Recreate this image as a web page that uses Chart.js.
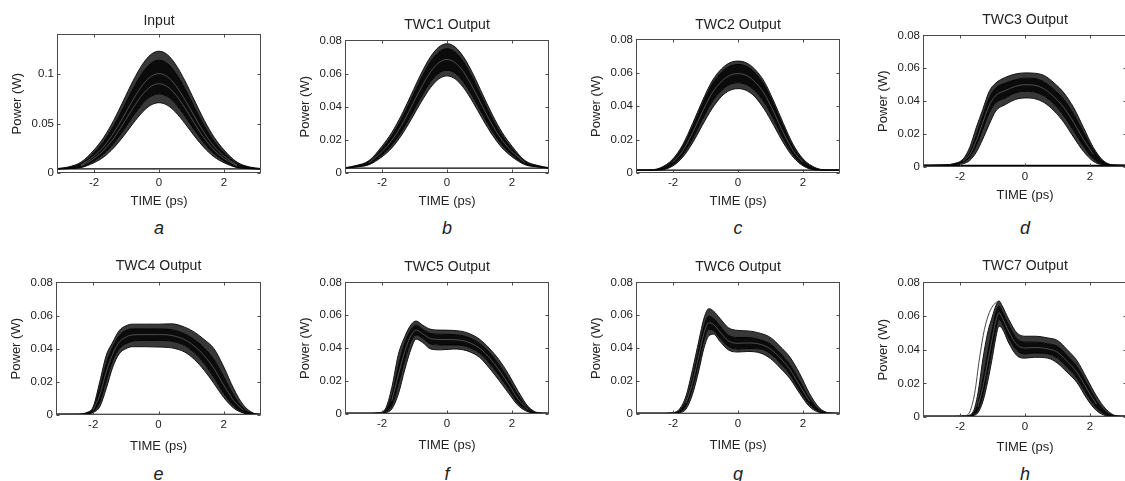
<!DOCTYPE html>
<html>
<head>
<meta charset="utf-8">
<script src="https://cdn.jsdelivr.net/npm/chart.js@4.4.1/dist/chart.umd.min.js"></script>
<style>
  body { margin: 0; width: 1125px; height: 481px; overflow: hidden; position: relative; background: #fff; font-family: "Liberation Sans", Arial, sans-serif; }
  .panel { position: absolute; }
  .tag { position: absolute; font-style: italic; font-size: 18px; color: #222; transform: translate(-50%, -50%); }
</style>
</head>
<body>
<script>
// time grids (ps)
const timeSym = [-3.14, -2.8, -2.4, -2.0, -1.7, -1.4, -1.1, -0.8, -0.5, -0.25, 0, 0.25, 0.5, 0.8, 1.1, 1.4, 1.7, 2.0, 2.4, 2.8, 3.14];
const timeD = [-3.14, -2.6, -2.2, -1.9, -1.7, -1.5, -1.3, -1.1, -0.9, -0.6, -0.3, 0, 0.3, 0.6, 0.9, 1.2, 1.5, 1.8, 2.1, 2.4, 2.7, 3.14];
const timeE = [-3.14, -2.5, -2.2, -2.0, -1.8, -1.6, -1.4, -1.2, -1.0, -0.8, -0.4, 0, 0.4, 0.8, 1.1, 1.4, 1.7, 2.0, 2.3, 2.6, 2.9, 3.14];
const timeF = [-3.14, -2.4, -2.1, -1.9, -1.7, -1.5, -1.3, -1.1, -0.95, -0.75, -0.5, -0.2, 0.2, 0.6, 1.0, 1.3, 1.6, 1.9, 2.2, 2.5, 2.8, 3.14];
const timeG = [-3.14, -2.4, -2.0, -1.8, -1.6, -1.4, -1.2, -1.05, -0.9, -0.75, -0.55, -0.3, 0, 0.3, 0.7, 1.0, 1.3, 1.6, 1.9, 2.2, 2.5, 2.8, 3.14];
const timeH = [-3.14, -2.2, -1.8, -1.6, -1.45, -1.3, -1.15, -1.0, -0.9, -0.8, -0.7, -0.5, -0.25, 0, 0.3, 0.7, 1.0, 1.3, 1.6, 1.9, 2.2, 2.5, 2.8, 3.14];
const timeEarly = [-1.85, -1.7, -1.55, -1.4, -1.25, -1.1, -0.95, -0.82];
const timeFloor = [-3.14, 3.14];

// a: Input - outer top curve, dense band top / bottom, outer bottom curve, light gaps seen inside the band (W)
const inputHi     = [.0045, .006, .011, .0233, .036, .0528, .0727, .093, .1102, .1197, .123, .1197, .1102, .093, .0727, .0528, .036, .0233, .011, .006, .0045];
const inputBandHi = [.0043, .0055, .0095, .0204, .0318, .0473, .0658, .0851, .1017, .1108, .114, .1108, .1017, .0851, .0658, .0473, .0318, .0204, .0095, .0055, .0043];
const inputBandLo = [.004, .0045, .006, .0122, .0193, .0296, .0428, .0573, .0701, .0774, .080, .0774, .0701, .0573, .0428, .0296, .0193, .0122, .006, .0045, .004];
const inputLo     = [.004, .0044, .0055, .0104, .0162, .0252, .0369, .050, .0618, .0686, .071, .0686, .0618, .050, .0369, .0252, .0162, .0104, .0055, .0044, .004];
const inputGap1   = [null, null, .0081, .0171, .0268, .0402, .0566, .074, .0891, .0974, .1004, .0974, .0891, .074, .0566, .0402, .0268, .0171, .0081, null, null];
const inputGap2   = [null, null, .0071, .0147, .0231, .0349, .0497, .0656, .0796, .0874, .0902, .0874, .0796, .0656, .0497, .0349, .0231, .0147, .0071, null, null];

// b: TWC1 output
const twc1Hi     = [.0032, .0045, .0075, .0162, .0244, .035, .0473, .0598, .0703, .076, .078, .076, .0703, .0598, .0473, .035, .0244, .0162, .0075, .0045, .0032];
const twc1BandHi = [.003, .0042, .0068, .0147, .0224, .0325, .0445, .0568, .0673, .073, .075, .073, .0673, .0568, .0445, .0325, .0224, .0147, .0068, .0042, .003];
const twc1BandLo = [.003, .0038, .0055, .011, .0169, .0251, .0352, .0458, .0551, .0602, .062, .0602, .0551, .0458, .0352, .0251, .0169, .011, .0055, .0038, .003];
const twc1Lo     = [.003, .0036, .005, .0098, .0151, .0228, .0324, .0427, .0517, .0568, .0586, .0568, .0517, .0427, .0324, .0228, .0151, .0098, .005, .0036, .003];
const twc1Gap    = [null, null, .0062, .0129, .0197, .0288, .0399, .0513, .0612, .0666, .0685, .0666, .0612, .0513, .0399, .0288, .0197, .0129, .0062, null, null];

// c: TWC2 output
const twc2Hi     = [.0017, .0018, .003, .0085, .017, .0295, .043, .055, .0625, .066, .067, .066, .0625, .055, .043, .0295, .017, .0085, .003, .0018, .0017];
const twc2BandHi = [.0017, .0017, .0027, .0075, .0155, .0275, .041, .053, .0605, .064, .065, .064, .0605, .053, .041, .0275, .0155, .0075, .0027, .0017, .0017];
const twc2BandLo = [.0017, .0017, .002, .005, .011, .0205, .032, .0425, .0495, .053, .054, .053, .0495, .0425, .032, .0205, .011, .005, .002, .0017, .0017];
const twc2Lo     = [.0017, .0017, .0018, .0043, .0095, .018, .0285, .0385, .046, .0495, .0505, .0495, .046, .0385, .0285, .018, .0095, .0043, .0018, .0017, .0017];
const twc2Gap    = [null, null, null, .0063, .0133, .024, .0365, .0478, .055, .0585, .0595, .0585, .055, .0478, .0365, .024, .0133, .0063, null, null, null];

// d: TWC3 output
const twc3Hi     = [.001, .0012, .002, .005, .012, .024, .035, .046, .051, .0545, .0565, .0572, .057, .0555, .051, .045, .036, .024, .012, .004, .0013, .001];
const twc3BandHi = [.001, .0012, .0018, .004, .009, .019, .031, .042, .048, .051, .053, .054, .0538, .0515, .047, .041, .032, .021, .0105, .0035, .0012, .001];
const twc3BandLo = [.001, .001, .0015, .003, .006, .013, .023, .033, .039, .042, .045, .046, .0455, .043, .038, .031, .022, .0125, .005, .0017, .001, .001];
const twc3Lo     = [.001, .001, .0013, .002, .004, .009, .017, .026, .034, .038, .041, .042, .0415, .039, .034, .027, .018, .0095, .0035, .0013, .001, .001];
const twc3Gap    = [null, null, null, .0035, .0075, .016, .027, .0375, .0435, .0465, .049, .05, .0497, .0473, .0425, .036, .027, .0168, .0078, null, null, null];

// e: TWC4 output
const twc4Hi     = [.0004, .0005, .0015, .005, .02, .036, .044, .051, .0538, .0548, .0548, .0548, .055, .053, .05, .0455, .04, .029, .016, .006, .0012, .0004];
const twc4BandHi = [.0004, .0004, .0012, .004, .016, .031, .041, .048, .051, .052, .052, .052, .0515, .049, .0455, .0405, .0335, .023, .012, .004, .0008, .0004];
const twc4BandLo = [.0004, .0004, .0008, .002, .008, .021, .033, .04, .043, .0445, .045, .045, .0445, .042, .0375, .031, .0225, .013, .0055, .0015, .0004, .0004];
const twc4Lo     = [.0004, .0004, .0006, .0015, .005, .016, .029, .037, .04, .0412, .0412, .041, .0405, .038, .0335, .027, .019, .0105, .0042, .0012, .0004, .0004];
const twc4Gap    = [null, null, null, .003, .012, .026, .037, .044, .047, .0483, .0485, .0485, .048, .0455, .0415, .0358, .028, .018, .0088, .0028, null, null];

// f: TWC5 output
const twc5Hi     = [.0004, .0004, .0008, .003, .016, .036, .047, .0545, .0565, .054, .0515, .051, .0508, .0495, .0455, .040, .033, .024, .0135, .0045, .0008, .0004];
const twc5BandHi = [.0004, .0004, .0006, .002, .011, .029, .043, .0515, .054, .0515, .049, .0485, .0483, .047, .043, .0375, .030, .021, .011, .0035, .0006, .0004];
const twc5BandLo = [.0004, .0004, .0004, .0012, .005, .018, .033, .0445, .048, .046, .0425, .042, .042, .041, .037, .031, .0235, .015, .0065, .0018, .0004, .0004];
const twc5Lo     = [.0004, .0004, .0004, .0008, .003, .012, .027, .040, .0455, .0435, .0395, .039, .0395, .0385, .0345, .028, .0205, .0125, .005, .0013, .0004, .0004];
const twc5Gap    = [null, null, null, null, .008, .0235, .038, .048, .051, .0488, .0458, .0453, .0452, .044, .04, .0343, .0268, .018, .0088, .0027, null, null];

// g: TWC6 output
const twc6Hi     = [.0004, .0004, .0008, .003, .011, .027, .045, .058, .064, .0625, .058, .0525, .0508, .0505, .049, .0465, .041, .0345, .0245, .0125, .0038, .0007, .0004];
const twc6BandHi = [.0004, .0004, .0006, .002, .008, .022, .040, .053, .0595, .058, .0535, .048, .0465, .0465, .045, .0425, .037, .030, .020, .0095, .0025, .0005, .0004];
const twc6BandLo = [.0004, .0004, .0004, .0012, .005, .016, .032, .045, .0515, .0505, .046, .041, .0395, .0398, .0395, .0365, .031, .024, .0145, .006, .0015, .0004, .0004];
const twc6Lo     = [.0004, .0004, .0004, .0008, .003, .012, .027, .040, .0475, .0485, .044, .039, .0377, .038, .037, .0337, .028, .0215, .0125, .0045, .001, .0004, .0004];
const twc6Gap    = [null, null, null, null, .0065, .019, .036, .049, .0555, .0543, .0498, .0445, .043, .0432, .0423, .0395, .034, .027, .0173, .0078, null, null, null];

// h: TWC7 output (+ one early outlier trace)
const twc7Hi     = [.0004, .0004, .0008, .003, .014, .034, .05, .06, .066, .069, .066, .058, .050, .048, .048, .047, .0455, .040, .0335, .023, .0125, .0045, .0008, .0004];
const twc7BandHi = [.0004, .0004, .0005, .002, .008, .022, .038, .053, .062, .066, .0625, .0545, .0465, .0445, .0445, .0435, .042, .0365, .030, .020, .0098, .003, .0005, .0004];
const twc7BandLo = [.0004, .0004, .0004, .0012, .004, .013, .027, .042, .052, .058, .0555, .047, .0395, .0375, .038, .0375, .035, .0295, .023, .0135, .0055, .0014, .0004, .0004];
const twc7Lo     = [.0004, .0004, .0004, .0008, .0025, .009, .021, .036, .047, .054, .0525, .044, .0365, .035, .0355, .035, .032, .0265, .0205, .011, .0038, .0008, .0004, .0004];
const twc7Gap    = [null, null, null, null, .006, .0175, .0325, .0475, .057, .062, .059, .0508, .043, .041, .0413, .0405, .0385, .033, .0265, .0168, .0077, null, null, null];
const twc7Early  = [.0005, .003, .014, .035, .052, .062, .067, .069];

// baseline trace level in each panel, W
const floorLevels = [0.0042, 0.003, 0.0017, 0.001, 0.0004, 0.0004, 0.0004, 0.0004];

// ticks
const xTicks = [-2, 0, 2];
const yTicksInput = [0, 0.05, 0.1];
const yTicksOutput = [0, 0.02, 0.04, 0.06, 0.08];

const titles = ["Input", "TWC1 Output", "TWC2 Output", "TWC3 Output", "TWC4 Output", "TWC5 Output", "TWC6 Output", "TWC7 Output"];
const tags = ["a", "b", "c", "d", "e", "f", "g", "h"];

const FONT = "'Liberation Sans', Arial, sans-serif";
const TEXT = "#222";
const INK = "#111";

// plot box [left, top, width, height], title centre y, x-axis strip height, tag centre y
const layoutBoxes = [
  [57, 34, 204, 139], [345, 40, 204, 133], [636, 39, 204, 134], [923, 35, 204, 132],
  [56, 282, 205, 133], [345, 282, 204, 132], [636, 282, 204, 132], [923, 282, 204, 135],
];
const titleYs = [21, 25, 25, 20, 266, 267, 267, 266];
const xStrip = [36, 36, 36, 36, 39, 39, 39, 38];
const tagYs = [228, 228, 228, 228, 474, 474, 474, 474];

const panels = [
  { time: timeSym, hi: inputHi, bandHi: inputBandHi, bandLo: inputBandLo, lo: inputLo, gaps: [inputGap1, inputGap2], yMax: 0.14, yTicks: yTicksInput },
  { time: timeSym, hi: twc1Hi, bandHi: twc1BandHi, bandLo: twc1BandLo, lo: twc1Lo, gaps: [twc1Gap], yMax: 0.08, yTicks: yTicksOutput },
  { time: timeSym, hi: twc2Hi, bandHi: twc2BandHi, bandLo: twc2BandLo, lo: twc2Lo, gaps: [twc2Gap], yMax: 0.08, yTicks: yTicksOutput },
  { time: timeD, hi: twc3Hi, bandHi: twc3BandHi, bandLo: twc3BandLo, lo: twc3Lo, gaps: [twc3Gap], yMax: 0.08, yTicks: yTicksOutput },
  { time: timeE, hi: twc4Hi, bandHi: twc4BandHi, bandLo: twc4BandLo, lo: twc4Lo, gaps: [twc4Gap], yMax: 0.08, yTicks: yTicksOutput },
  { time: timeF, hi: twc5Hi, bandHi: twc5BandHi, bandLo: twc5BandLo, lo: twc5Lo, gaps: [twc5Gap], yMax: 0.08, yTicks: yTicksOutput },
  { time: timeG, hi: twc6Hi, bandHi: twc6BandHi, bandLo: twc6BandLo, lo: twc6Lo, gaps: [twc6Gap], yMax: 0.08, yTicks: yTicksOutput },
  { time: timeH, hi: twc7Hi, bandHi: twc7BandHi, bandLo: twc7BandLo, lo: twc7Lo, gaps: [twc7Gap], yMax: 0.08, yTicks: yTicksOutput, early: twc7Early },
];

function pts(xs, ys){
  return xs.map((x, i) => ({ x, y: ys[i] }));
}

function trace(xs, ys, color, width, fill = false, fillColor = "transparent"){
  return {
    data: pts(xs, ys),
    borderColor: color,
    borderWidth: width,
    pointRadius: 0,
    cubicInterpolationMode: "monotone",
    spanGaps: false,
    fill,
    backgroundColor: fillColor,
  };
}

// matlab style frame: box all round, ticks pointing inwards on every side
const matlabBox = {
  id: "matlabBox",
  afterDraw(chart){
    const { ctx, chartArea: a, scales: { x, y } } = chart;
    const l = Math.round(a.left) + 0.5, t = Math.round(a.top) + 0.5;
    const r = Math.round(a.right) - 0.5, b = Math.round(a.bottom) - 0.5;
    ctx.save();
    ctx.strokeStyle = "#4a4a4a";
    ctx.lineWidth = 1;
    ctx.strokeRect(l, t, r - l, b - t);
    ctx.beginPath();
    x.ticks.forEach(tk => {
      const px = Math.round(x.getPixelForValue(tk.value)) + 0.5;
      ctx.moveTo(px, b); ctx.lineTo(px, b - 3);
      ctx.moveTo(px, t); ctx.lineTo(px, t + 3);
    });
    y.ticks.forEach(tk => {
      const py = Math.round(y.getPixelForValue(tk.value)) + 0.5;
      ctx.moveTo(l, py); ctx.lineTo(l + 3, py);
      ctx.moveTo(r, py); ctx.lineTo(r - 3, py);
    });
    ctx.stroke();
    ctx.restore();
  },
};

const Y_AXIS_W = 47, PAD_R = 4, TITLE_SIZE = 14, TICK_SIZE = 11.5;

panels.forEach((p, i) => {
  const [bx, by, bw, bh] = layoutBoxes[i];
  const xAxisH = xStrip[i];
  const titleLine = TITLE_SIZE * 1.2;
  const top = titleYs[i] - titleLine / 2;
  const W = Y_AXIS_W + bw + PAD_R;
  const H = Math.round(by + bh + xAxisH - top);

  const wrap = document.createElement("div");
  wrap.className = "panel";
  wrap.style.left = (bx - Y_AXIS_W) + "px";
  wrap.style.top = top + "px";
  const canvas = document.createElement("canvas");
  canvas.width = W;
  canvas.height = H;
  canvas.style.width = W + "px";
  canvas.style.height = H + "px";
  wrap.appendChild(canvas);
  document.body.appendChild(wrap);

  const tag = document.createElement("div");
  tag.className = "tag";
  tag.textContent = tags[i];
  tag.style.left = (bx + bw / 2) + "px";
  tag.style.top = tagYs[i] + "px";
  document.body.appendChild(tag);

  const fl = floorLevels[i];
  // outer curves with a dim spread between them and the dense black core
  const datasets = [
    trace(p.time, p.hi, INK, 1),
    trace(p.time, p.bandHi, "#000", 1, "-1", "rgba(0,0,0,0.78)"),
    trace(p.time, p.bandLo, "#000", 1, "-1", "#0b0b0b"),
    trace(p.time, p.lo, INK, 1, "-1", "rgba(0,0,0,0.78)"),
    trace(timeFloor, [fl, fl], "#000", 1.3),
  ];
  // light streaks between the overlapping traces go on top (lower order = drawn later)
  p.gaps.forEach(g => datasets.push({ ...trace(p.time, g, "rgba(255,255,255,0.38)", 0.7), order: -1 }));
  if (p.early) datasets.push({ ...trace(timeEarly, p.early, "#333", 0.9), order: -2 });

  new Chart(canvas, {
    type: "line",
    data: { datasets },
    options: {
      responsive: false,
      animation: false,
      events: [],
      layout: { padding: { top: 0, right: PAD_R, bottom: 0, left: 0 } },
      plugins: {
        legend: { display: false },
        tooltip: { enabled: false },
        title: {
          display: true,
          text: titles[i],
          fullSize: false,
          color: TEXT,
          font: { family: FONT, size: TITLE_SIZE, weight: "normal", lineHeight: 1.2 },
          padding: { top: 0, bottom: by - titleYs[i] - titleLine / 2 },
        },
      },
      scales: {
        x: {
          type: "linear",
          min: -3.14,
          max: 3.14,
          afterBuildTicks: s => { s.ticks = xTicks.map(v => ({ value: v })); },
          afterFit: s => { s.height = xAxisH; },
          grid: { display: false, drawTicks: false },
          border: { display: false },
          ticks: { color: TEXT, font: { family: FONT, size: TICK_SIZE }, padding: 3, maxRotation: 0, autoSkip: false, callback: v => String(v) },
          title: { display: true, text: "TIME (ps)", color: TEXT, font: { family: FONT, size: 13, lineHeight: 1.2 }, padding: 0 },
        },
        y: {
          type: "linear",
          min: 0,
          max: p.yMax,
          afterBuildTicks: s => { s.ticks = p.yTicks.map(v => ({ value: v })); },
          afterFit: s => { s.width = Y_AXIS_W; },
          grid: { display: false, drawTicks: false },
          border: { display: false },
          ticks: { color: TEXT, font: { family: FONT, size: TICK_SIZE }, padding: 3, autoSkip: false, callback: v => String(v) },
          title: { display: true, text: "Power (W)", color: TEXT, font: { family: FONT, size: 13, lineHeight: 1.2 }, padding: 0 },
        },
      },
    },
    plugins: [matlabBox],
  });
});
</script>
</body>
</html>
